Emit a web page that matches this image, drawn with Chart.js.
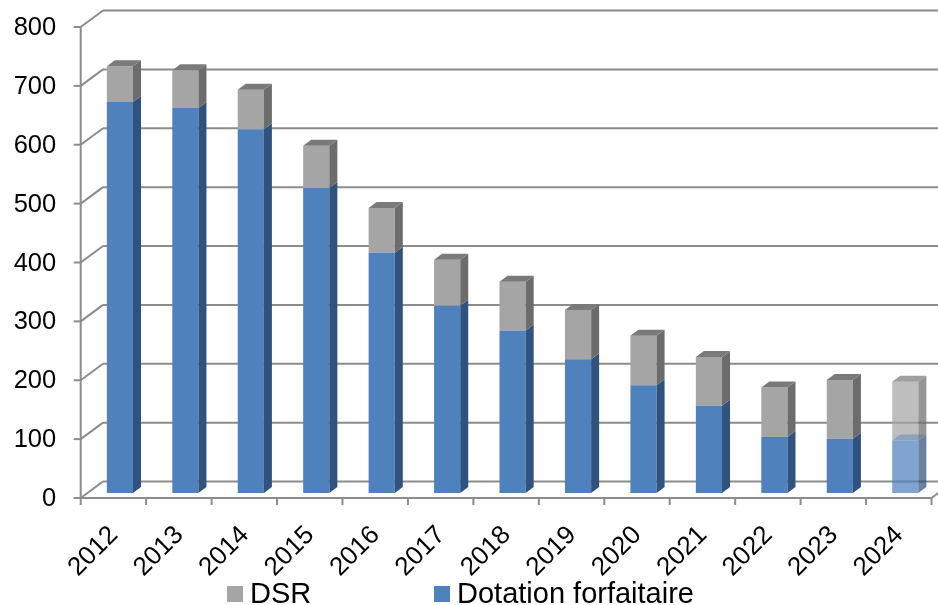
<!DOCTYPE html>
<html lang="fr">
<head>
<meta charset="utf-8">
<title>Dotation forfaitaire et DSR</title>
<script src="https://cdn.jsdelivr.net/npm/chart.js@4/dist/chart.umd.min.js"></script>
<style>
  html, body { margin: 0; padding: 0; background: #ffffff; }
  #wrap { width: 938px; height: 605px; }
</style>
</head>
<body>
<div id="wrap"><canvas id="chart" width="938" height="605"></canvas></div>
<script>
// Années et montants (stack : dotation forfaitaire en bas, DSR au-dessus)
const years = ['2012', '2013', '2014', '2015', '2016', '2017', '2018', '2019', '2020', '2021', '2022', '2023', '2024'];
const dotationForfaitaire = [664, 654, 618, 518, 408, 318, 276, 227, 183, 148, 95, 92, 89];
const dsr = [61, 64, 67, 72, 76, 78, 83, 84, 84, 83, 84, 100, 100];
const estimatedYears = ['2024'];
const axisMax = 800;
const axisStep = 100;

// Palette : face avant, côté, dessus
const palette = {
  blue: { front: [79, 129, 189], side: [48, 82, 126], top: [64, 104, 152] },
  grey: { front: [165, 165, 165], side: [108, 108, 108], top: [122, 122, 122] }
};
const rgba = (c, a) => `rgba(${c[0]},${c[1]},${c[2]},${a})`;
const alphaFor = i => (estimatedYears.includes(years[i]) ? 0.72 : 1);

// Décalages de la perspective (en pixels)
const FRONT = { dx: -6.5, dy: 5 };     // plan avant des axes
const BACK = { dx: 15.8, dy: -11.5 };  // paroi du fond
const BAR = { dx: 8, dy: 6 };          // profondeur des barres
const GRID_COLOR = '#8c8c8c';
const FONT_FAMILY = '"Liberation Sans", Arial, sans-serif';

function line(ctx, x1, y1, x2, y2) {
  ctx.beginPath();
  ctx.moveTo(x1, y1);
  ctx.lineTo(x2, y2);
  ctx.stroke();
}

function poly(ctx, pts, color) {
  ctx.beginPath();
  ctx.moveTo(pts[0][0], pts[0][1]);
  for (let k = 1; k < pts.length; k++) ctx.lineTo(pts[k][0], pts[k][1]);
  ctx.closePath();
  ctx.fillStyle = color;
  ctx.fill();
}

// Parois, quadrillage et axes en pseudo-3D
const wallsPlugin = {
  id: 'walls3d',
  beforeDatasetsDraw(chart) {
    const { ctx, chartArea, scales } = chart;
    const ys = scales.y, xs = scales.x;
    ctx.save();
    ctx.strokeStyle = GRID_COLOR;
    ctx.lineWidth = 2;
    ctx.lineCap = 'butt';
    const xf = chartArea.left + FRONT.dx;
    const xb = chartArea.left + BACK.dx;
    ys.ticks.forEach(t => {
      const py = ys.getPixelForValue(t.value);
      line(ctx, xb, py + BACK.dy, chart.width, py + BACK.dy);
      line(ctx, xf, py + FRONT.dy, xb, py + BACK.dy);
      line(ctx, xf - 7, py + FRONT.dy, xf, py + FRONT.dy);
    });
    const y0 = ys.getPixelForValue(0) + FRONT.dy;
    const yTop = ys.getPixelForValue(axisMax) + FRONT.dy;
    line(ctx, xf, y0, xf, yTop);
    const xr = chartArea.right + FRONT.dx;
    line(ctx, xf, y0, xr, y0);
    line(ctx, xr, y0, xr + (BACK.dx - FRONT.dx), y0 + (BACK.dy - FRONT.dy));
    for (let i = 0; i <= years.length; i++) {
      const x = xs.getPixelForValue(i - 0.5) + FRONT.dx;
      line(ctx, x, y0, x, y0 + 7);
    }
    ctx.restore();
  },
  afterDatasetsDraw(chart) {
    const { ctx } = chart;
    ctx.save();
    const metas = chart.getSortedVisibleDatasetMetas().sort((a, b) => a.index - b.index);
    const lastIdx = metas.length - 1;
    metas.forEach((meta, di) => {
      const pal = meta.index === 0 ? palette.blue : palette.grey;
      meta.data.forEach((bar, i) => {
        const p = bar.getProps(['x', 'y', 'base', 'width'], true);
        const l = p.x - p.width / 2, r = p.x + p.width / 2;
        const top = Math.min(p.y, p.base), bot = Math.max(p.y, p.base);
        const a = alphaFor(i);
        poly(ctx, [[r, top], [r + BAR.dx, top - BAR.dy], [r + BAR.dx, bot - BAR.dy], [r, bot]], rgba(pal.side, a));
        if (di === lastIdx) {
          poly(ctx, [[l, top], [l + BAR.dx, top - BAR.dy], [r + BAR.dx, top - BAR.dy], [r, top]], rgba(pal.top, a));
        } else if (a < 1) {
          // dessus du segment inférieur, visible à travers la barre translucide
          poly(ctx, [[l, top], [l + BAR.dx, top - BAR.dy], [r + BAR.dx, top - BAR.dy], [r, top]], rgba(pal.front, 0.45));
        }
      });
    });
    ctx.restore();
  }
};

// Légende horizontale sous le graphique
const legendItems = [
  { text: 'DSR', color: rgba(palette.grey.front, 1), x: 227 },
  { text: 'Dotation forfaitaire', color: rgba(palette.blue.front, 1), x: 434 }
];
const legendPlugin = {
  id: 'bottomLegend',
  afterDraw(chart) {
    const { ctx } = chart;
    ctx.save();
    ctx.font = '29px ' + FONT_FAMILY;
    ctx.textBaseline = 'alphabetic';
    ctx.textAlign = 'left';
    legendItems.forEach(it => {
      ctx.fillStyle = it.color;
      ctx.fillRect(it.x, 586, 16, 16);
      ctx.fillStyle = '#000000';
      ctx.fillText(it.text, it.x + 23, 603);
    });
    ctx.restore();
  }
};

const colorsFor = pal => years.map((_, i) => rgba(pal.front, alphaFor(i)));

// La zone de tracé est fixée par la mise en page, pas par la taille des libellés
const clearScalePadding = s => {
  s.paddingTop = 0; s.paddingBottom = 0; s.paddingLeft = 0; s.paddingRight = 0;
};

new Chart(document.getElementById('chart'), {
  type: 'bar',
  data: {
    labels: years,
    datasets: [
      {
        label: 'Dotation forfaitaire',
        data: dotationForfaitaire,
        backgroundColor: colorsFor(palette.blue),
        borderWidth: 0,
        categoryPercentage: 0.4,
        barPercentage: 1
      },
      {
        label: 'DSR',
        data: dsr,
        backgroundColor: colorsFor(palette.grey),
        borderWidth: 0,
        categoryPercentage: 0.4,
        barPercentage: 1
      }
    ]
  },
  options: {
    responsive: false,
    animation: false,
    layout: { padding: { top: 22, right: -2, left: 0, bottom: 0 } },
    plugins: {
      legend: { display: false },
      tooltip: { enabled: false }
    },
    scales: {
      x: {
        stacked: true,
        grid: { display: false, drawTicks: false },
        border: { display: false },
        ticks: {
          color: '#000000',
          font: { family: FONT_FAMILY, size: 26 },
          minRotation: 45,
          maxRotation: 45,
          autoSkip: false,
          padding: 27,
          labelOffset: -6
        },
        afterFit: s => { s.height = 112; clearScalePadding(s); }
      },
      y: {
        stacked: true,
        min: 0,
        max: axisMax,
        grid: { display: false, drawTicks: false },
        border: { display: false },
        ticks: {
          stepSize: axisStep,
          color: '#000000',
          font: { family: FONT_FAMILY, size: 25.5 },
          padding: 31,
          labelOffset: 6
        },
        afterFit: s => { s.width = 87.2; clearScalePadding(s); }
      }
    }
  },
  plugins: [wallsPlugin, legendPlugin]
});
</script>
</body>
</html>
